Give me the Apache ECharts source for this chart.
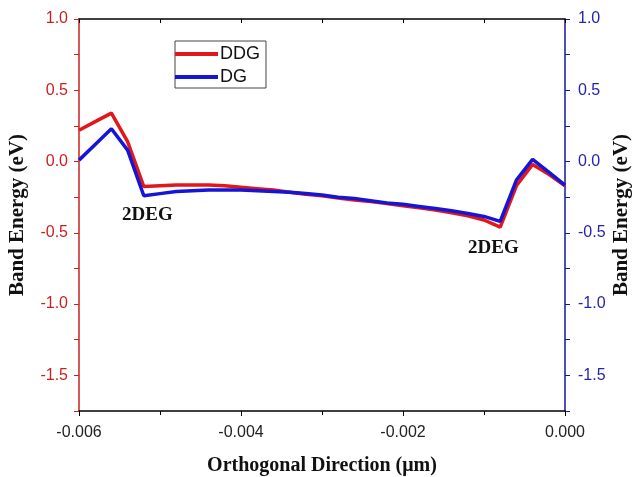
<!DOCTYPE html>
<html>
<head>
<meta charset="utf-8">
<script src="https://cdn.jsdelivr.net/npm/echarts@6/dist/echarts.min.js"></script>
<style>
  html, body { margin: 0; padding: 0; background: #fff; }
  #main { width: 632px; height: 477px; }
</style>
</head>
<body>
<div id="main"></div>
<script>
// positions along the orthogonal direction (µm)
var xs = [-0.006, -0.0058, -0.0056, -0.0054, -0.0052, -0.005, -0.0048, -0.0046, -0.0044, -0.0042,
          -0.004, -0.0038, -0.0036, -0.0034, -0.0032, -0.003, -0.0028, -0.0026, -0.0024, -0.0022,
          -0.002, -0.0018, -0.0016, -0.0014, -0.0012, -0.001, -0.0008, -0.0006, -0.0004, -0.0002, 0];
// band energy (eV)
var ddg = [0.22, 0.28, 0.34, 0.14, -0.175, -0.17, -0.165, -0.165, -0.165, -0.17,
           -0.18, -0.19, -0.2, -0.215, -0.23, -0.24, -0.255, -0.27, -0.28, -0.295,
           -0.31, -0.325, -0.34, -0.36, -0.38, -0.41, -0.46, -0.17, -0.02, -0.09, -0.17];
var dg = [0.01, 0.12, 0.23, 0.08, -0.24, -0.225, -0.21, -0.205, -0.2, -0.2,
          -0.2, -0.205, -0.21, -0.215, -0.225, -0.235, -0.25, -0.26, -0.275, -0.29,
          -0.3, -0.315, -0.33, -0.345, -0.365, -0.385, -0.42, -0.13, 0.015, -0.075, -0.165];
var seriesNames = ['DDG', 'DG'];
var yLabelValues = [-1.5, -1.0, -0.5, 0.0, 0.5, 1.0];

function pairs(ys) {
    return xs.map(function (x, i) { return [x, ys[i]]; });
}

var red = '#e3161c';
var blue = '#1515d6';
var redAxis = '#cc1f1f';
var blueAxis = '#16169e';

var myChart = echarts.init(document.getElementById('main'));

function yLabel(v) {
    // only label the 0.5 steps, the 0.25 steps act as minor ticks
    for (var i = 0; i < yLabelValues.length; i++) {
        if (Math.abs(v - yLabelValues[i]) < 1e-6) return v.toFixed(1);
    }
    return '';
}

var option = {
    animation: false,
    grid: { left: 79, right: 67, top: 19, bottom: 66, outerBoundsMode: 'none' },
    legend: {
        orient: 'vertical',
        left: 175,
        top: 41,
        width: 89,
        padding: [4, 6, 2, 0],
        itemGap: 5,
        itemWidth: 43,
        itemHeight: 4,
        icon: 'rect',
        borderColor: '#444',
        borderWidth: 1,
        data: seriesNames,
        textStyle: { fontFamily: 'Liberation Sans', fontSize: 18, color: '#111', padding: [0, 0, 0, -3] }
    },
    xAxis: [{
        type: 'value',
        min: -0.006,
        max: 0,
        interval: 0.002,
        splitLine: { show: false },
        axisLine: { onZero: false, lineStyle: { color: '#000', width: 1.5 } },
        axisTick: { length: 5, lineStyle: { color: '#000' } },
        minorTick: { show: true, splitNumber: 2, length: 4, lineStyle: { color: '#000' } },
        axisLabel: {
            margin: 14,
            fontFamily: 'Liberation Sans', fontSize: 16, color: '#222',
            formatter: function (v) { return v.toFixed(3); }
        },
        name: 'Orthogonal Direction (\u03bcm)',
        nameLocation: 'middle',
        nameGap: 45,
        nameMoveOverlap: false,
        nameTextStyle: { fontFamily: 'Liberation Serif', fontWeight: 'bold', fontSize: 20, color: '#111' }
    }, {
        type: 'value',
        position: 'top',
        min: -0.006,
        max: 0,
        interval: 0.001,
        splitLine: { show: false },
        axisLine: { onZero: false, lineStyle: { color: '#000', width: 1.5 } },
        axisTick: { inside: true, length: 4, lineStyle: { color: '#000' } },
        axisLabel: { show: false }
    }],
    yAxis: [{
        type: 'value',
        min: -1.75,
        max: 1.0,
        interval: 0.25,
        splitLine: { show: false },
        axisLine: { onZero: false, lineStyle: { color: redAxis, width: 1.5 } },
        axisTick: { length: 5, lineStyle: { color: redAxis } },
        axisLabel: {
            margin: 11,
            fontFamily: 'Liberation Sans', fontSize: 16, color: redAxis,
            formatter: yLabel
        },
        name: 'Band Energy (eV)',
        nameLocation: 'middle',
        nameGap: 51,
        nameMoveOverlap: false,
        nameTextStyle: { fontFamily: 'Liberation Serif', fontWeight: 'bold', fontSize: 21, color: '#111' }
    }, {
        type: 'value',
        position: 'right',
        min: -1.75,
        max: 1.0,
        interval: 0.25,
        splitLine: { show: false },
        axisLine: { show: true, onZero: false, lineStyle: { color: blueAxis, width: 1.5 } },
        axisTick: { show: true, length: 5, lineStyle: { color: blueAxis } },
        axisLabel: {
            margin: 13,
            fontFamily: 'Liberation Sans', fontSize: 16, color: '#2424b0',
            formatter: yLabel
        },
        name: 'Band Energy (eV)',
        nameLocation: 'middle',
        nameGap: 46,
        nameRotate: 90,
        nameMoveOverlap: false,
        nameTextStyle: { fontFamily: 'Liberation Serif', fontWeight: 'bold', fontSize: 21, color: '#111' }
    }],
    series: [{
        name: seriesNames[0],
        type: 'line',
        data: pairs(ddg),
        showSymbol: false,
        symbol: 'none',
        lineStyle: { color: red, width: 3.5 },
        itemStyle: { color: red },
        z: 2
    }, {
        name: seriesNames[1],
        type: 'line',
        data: pairs(dg),
        showSymbol: false,
        symbol: 'none',
        lineStyle: { color: blue, width: 3.5 },
        itemStyle: { color: blue },
        z: 3
    }],
    graphic: [{
        type: 'text', left: 122, top: 206,
        style: { text: '2DEG', fontFamily: 'Liberation Serif', fontWeight: 'bold', fontSize: 19, fill: '#111' }
    }, {
        type: 'text', left: 468, top: 239,
        style: { text: '2DEG', fontFamily: 'Liberation Serif', fontWeight: 'bold', fontSize: 19, fill: '#111' }
    }]
};
myChart.setOption(option);
window.onresize = myChart.resize;
</script>
</body>
</html>
